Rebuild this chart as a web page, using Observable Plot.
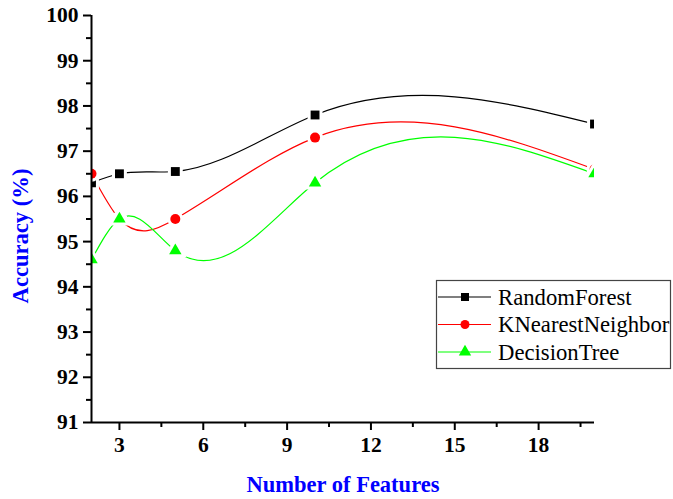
<!DOCTYPE html>
<html><head><meta charset="utf-8">
<script src="https://cdn.jsdelivr.net/npm/d3@7"></script>
<script src="https://cdn.jsdelivr.net/npm/@observablehq/plot@0.6"></script>
<style>
body{margin:0;background:#fff;}
#chart{position:relative;width:673px;height:499px;}
</style>
</head><body><div id="chart"></div>
<script>
const features = [2, 3, 5, 10, 20];
const randomForest = [96.3, 96.5, 96.55, 97.8, 97.6];
const kNearestNeighbor = [96.5, 95.5, 95.5, 97.3, 96.6];
const decisionTree = [94.6, 95.5, 94.8, 96.3, 96.5];
const seriesNames = ["RandomForest", "KNearestNeighbor", "DecisionTree"];
const seriesValues = [randomForest, kNearestNeighbor, decisionTree];
const seriesColors = ["#000000", "#ff0000", "#00ff00"];
const seriesSymbols = ["square", "circle", "triangle"];
const xTicks = [3, 6, 9, 12, 15, 18];
const xMinorTicks = [4.5, 7.5, 10.5, 13.5, 16.5, 19.5];
const yTicks = [91, 92, 93, 94, 95, 96, 97, 98, 99, 100];
const yMinorTicks = [91.5, 92.5, 93.5, 94.5, 95.5, 96.5, 97.5, 98.5, 99.5];
const xTitle = "Number of Features";
const yTitle = "Accuracy (%)";

const FONT = "'Liberation Serif', 'Times New Roman', Times, serif";

// Custom curve: natural cubic spline y(x) (function of x), as drawn by Origin's "Spline" connector.
function curveSplineX(context) {
  let xs = [], ys = [];
  return {
    areaStart() {}, areaEnd() {},
    lineStart() { xs = []; ys = []; },
    point(x, y) { xs.push(+x); ys.push(+y); },
    lineEnd() {
      const n = xs.length;
      if (!n) return;
      context.moveTo(xs[0], ys[0]);
      if (n === 1) return;
      if (n === 2) { context.lineTo(xs[1], ys[1]); return; }
      const h = [], d = [];
      for (let i = 0; i < n - 1; i++) { h.push(xs[i + 1] - xs[i]); d.push((ys[i + 1] - ys[i]) / h[i]); }
      const m = n - 2, a = [], b = [], c = [], r = [];
      for (let k = 0; k < m; k++) {
        const i = k + 1;
        a.push(h[i - 1]); b.push(2 * (h[i - 1] + h[i])); c.push(h[i]); r.push(6 * (d[i] - d[i - 1]));
      }
      for (let k = 1; k < m; k++) {
        const w = a[k] / b[k - 1];
        b[k] -= w * c[k - 1]; r[k] -= w * r[k - 1];
      }
      const M = new Array(n).fill(0);
      for (let k = m - 1; k >= 0; k--) {
        M[k + 1] = (r[k] - (k < m - 1 ? c[k] * M[k + 2] : 0)) / b[k];
      }
      for (let i = 0; i < n - 1; i++) {
        const hi = h[i];
        const s0 = d[i] - hi * (2 * M[i] + M[i + 1]) / 6;
        const s1 = d[i] + hi * (M[i] + 2 * M[i + 1]) / 6;
        context.bezierCurveTo(xs[i] + hi / 3, ys[i] + s0 * hi / 3,
                              xs[i + 1] - hi / 3, ys[i + 1] - s1 * hi / 3,
                              xs[i + 1], ys[i + 1]);
      }
    }
  };
}

const series = seriesNames.map((name, k) => ({
  name,
  color: seriesColors[k],
  symbol: seriesSymbols[k],
  data: features.map((f, i) => ({x: f, y: seriesValues[k][i]}))
}));

const marks = [];
for (const s of series) {
  marks.push(Plot.line(s.data, {x: "x", y: "y", stroke: s.color, strokeWidth: 1.2, curve: curveSplineX, clip: true}));
}
for (const s of series) {
  marks.push(Plot.dot(s.data, {x: "x", y: "y", symbol: s.symbol, fill: s.color, r: s.symbol === "triangle" ? 4.6 : 5,
    stroke: "white", strokeWidth: 6, paintOrder: "stroke", clip: true}));
}
marks.push(
  Plot.axisY(yMinorTicks, {tickSize: 5, tickFormat: () => "", strokeWidth: 2, label: null}),
  Plot.axisY(yTicks, {tickSize: 8, tickPadding: 5, strokeWidth: 2, fontSize: 21.5, fontWeight: "bold", fill: "black", label: null}),
  Plot.axisX(xMinorTicks, {tickSize: 5, tickFormat: () => "", strokeWidth: 2, label: null}),
  Plot.axisX(xTicks, {tickSize: 8, tickPadding: 6, strokeWidth: 2, fontSize: 21.5, fontWeight: "bold", fill: "black", label: null}),
  Plot.ruleX([2], {strokeWidth: 2}),
  Plot.ruleY([91], {strokeWidth: 2}),
  Plot.text([yTitle], {frameAnchor: "left", dx: -70.5, dy: 17, rotate: -90, fill: "#0000ff", fontSize: 22.6, fontWeight: "bold", textAnchor: "middle", lineAnchor: "middle"}),
  Plot.text([xTitle], {frameAnchor: "bottom", dy: 62, fill: "#0000ff", fontSize: 22.5, fontWeight: "bold", textAnchor: "middle", lineAnchor: "middle"})
);

const chart = Plot.plot({
  width: 673,
  height: 499,
  marginLeft: 91,
  marginRight: 79,
  marginTop: 15,
  marginBottom: 77,
  style: {fontFamily: FONT, fontSize: "22px", background: "white", color: "black"},
  x: {domain: [2, 20]},
  y: {domain: [91, 100]},
  marks
});

// Legend (drawn into the SVG)
const svg = d3.select(chart);
const lg = svg.append("g");
lg.append("rect").attr("x", 436.5).attr("y", 280.5).attr("width", 234).attr("height", 88)
  .attr("fill", "white").attr("stroke", "#444").attr("stroke-width", 1.2);
series.forEach((s, i) => {
  const cy = 297 + i * 27.5;
  lg.append("line").attr("x1", 438).attr("x2", 491).attr("y1", cy).attr("y2", cy)
    .attr("stroke", s.color).attr("stroke-width", 1.2);
  const r = s.symbol === "triangle" ? 4.6 : 4.5;
  const sym = {square: d3.symbolSquare, circle: d3.symbolCircle, triangle: d3.symbolTriangle}[s.symbol];
  lg.append("path").attr("d", d3.symbol(sym, r * r * Math.PI)()).attr("transform", `translate(465,${cy})`)
    .attr("fill", s.color);
  lg.append("text").attr("x", 498).attr("y", cy).attr("dy", "0.35em")
    .style("font-family", FONT).style("font-size", "22.7px").style("font-weight", "normal")
    .style("text-anchor", "start").attr("fill", "black").text(s.name);
});

document.getElementById("chart").appendChild(chart);
</script>
</body></html>
